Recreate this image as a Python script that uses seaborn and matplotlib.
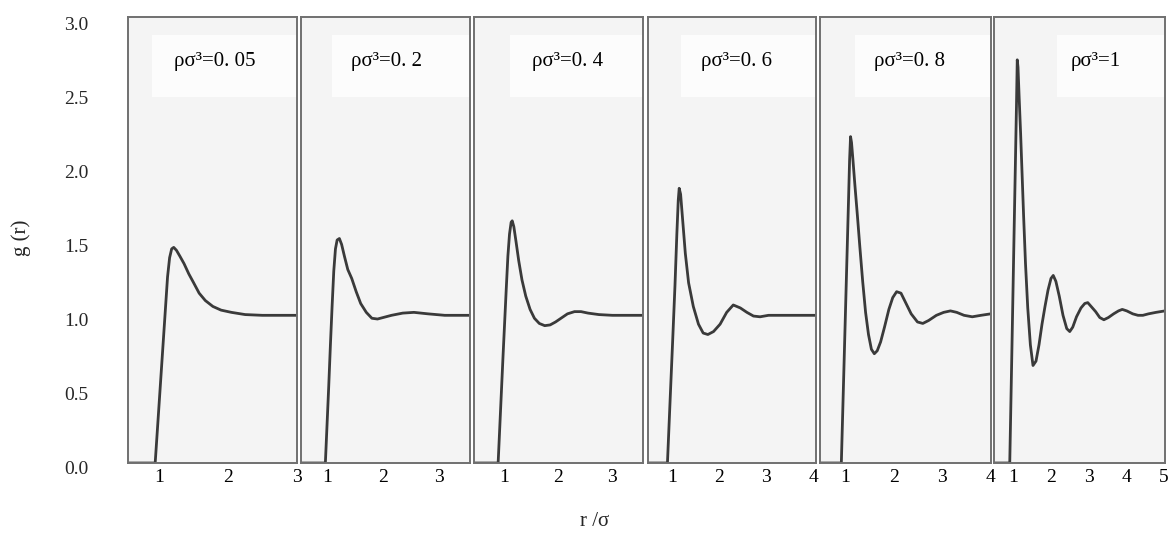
import matplotlib
matplotlib.use("Agg")
import matplotlib.pyplot as plt
import seaborn as sns
import pandas as pd
from matplotlib.patches import Rectangle
from matplotlib.transforms import ScaledTranslation

# ---------------- data ----------------
densities = ["0. 05", "0. 2", "0. 4", "0. 6", "0. 8", "1"]

r_005 = [0.54, 0.94, 0.97, 1.00, 1.03, 1.06, 1.09, 1.12, 1.15, 1.18, 1.21, 1.25, 1.30, 1.36,
         1.43, 1.50, 1.58, 1.67, 1.78, 1.90, 2.05, 2.25, 2.50, 2.75, 3.00]
g_005 = [0, 0, 0.21, 0.42, 0.63, 0.84, 1.05, 1.26, 1.39, 1.45, 1.46, 1.44, 1.40, 1.35,
         1.28, 1.22, 1.15, 1.10, 1.06, 1.035, 1.02, 1.005, 1.0, 1.0, 1.0]

r_02 = [0.53, 0.97, 1.00, 1.03, 1.06, 1.09, 1.12, 1.15, 1.18, 1.22, 1.26, 1.31, 1.37, 1.44,
        1.52, 1.60, 1.70, 1.80, 1.90, 2.00, 2.15, 2.35, 2.55, 2.80, 3.10, 3.55]
g_02 = [0, 0, 0.26, 0.52, 0.80, 1.06, 1.30, 1.45, 1.51, 1.52, 1.48, 1.40, 1.31, 1.25,
        1.16, 1.08, 1.02, 0.98, 0.975, 0.985, 1.0, 1.015, 1.02, 1.01, 1.0, 1.0]

r_04 = [0.45, 0.89, 0.92, 0.95, 0.98, 1.01, 1.04, 1.07, 1.10, 1.13, 1.15, 1.18, 1.22, 1.27,
        1.33, 1.40, 1.48, 1.56, 1.65, 1.75, 1.85, 1.95, 2.05, 2.17, 2.30, 2.42, 2.55, 2.75,
        3.00, 3.30, 3.57]
g_04 = [0, 0, 0.24, 0.48, 0.72, 0.95, 1.18, 1.40, 1.55, 1.63, 1.64, 1.60, 1.50, 1.37,
        1.24, 1.13, 1.04, 0.98, 0.945, 0.93, 0.935, 0.955, 0.98, 1.01, 1.025, 1.025, 1.015,
        1.005, 1.0, 1.0, 1.0]

r_06 = [0.48, 0.90, 0.96, 1.01, 1.06, 1.10, 1.13, 1.15, 1.18, 1.22, 1.28, 1.35, 1.45, 1.56,
        1.66, 1.76, 1.88, 2.02, 2.16, 2.30, 2.45, 2.59, 2.73, 2.87, 3.05, 3.30, 3.70, 4.06]
g_06 = [0, 0, 0.45, 0.82, 1.20, 1.55, 1.78, 1.86, 1.82, 1.66, 1.42, 1.22, 1.06, 0.94,
        0.88, 0.87, 0.89, 0.94, 1.02, 1.07, 1.05, 1.02, 0.995, 0.99, 1.0, 1.0, 1.0, 1.0]

r_08 = [0.48, 0.92, 0.95, 0.98, 1.01, 1.04, 1.07, 1.09, 1.11, 1.13, 1.16, 1.20, 1.25, 1.30,
        1.36, 1.42, 1.48, 1.54, 1.60, 1.66, 1.73, 1.81, 1.90, 1.98, 2.06, 2.15, 2.24, 2.36,
        2.49, 2.60, 2.72, 2.88, 3.03, 3.17, 3.30, 3.45, 3.62, 3.80, 4.00]
g_08 = [0, 0, 0.36, 0.72, 1.08, 1.44, 1.80, 2.05, 2.21, 2.17, 2.05, 1.88, 1.68, 1.47,
        1.23, 1.02, 0.87, 0.77, 0.74, 0.76, 0.82, 0.92, 1.04, 1.12, 1.16, 1.15, 1.09, 1.01,
        0.955, 0.945, 0.965, 1.0, 1.02, 1.03, 1.02, 1.0, 0.99, 1.0, 1.01]

r_10 = [0.48, 0.90, 0.93, 0.96, 0.99, 1.02, 1.05, 1.08, 1.10, 1.12, 1.15, 1.19, 1.23, 1.27,
        1.32, 1.38, 1.45, 1.52, 1.60, 1.68, 1.76, 1.84, 1.92, 2.00, 2.06, 2.13, 2.22, 2.32,
        2.42, 2.50, 2.58, 2.68, 2.80, 2.90, 2.98, 3.07, 3.19, 3.30, 3.41, 3.53, 3.67, 3.80,
        3.90, 4.02, 4.18, 4.32, 4.45, 4.60, 4.80, 5.04]
g_10 = [0, 0, 0.40, 0.80, 1.21, 1.62, 2.02, 2.43, 2.73, 2.68, 2.48, 2.23, 1.95, 1.67,
        1.35, 1.05, 0.80, 0.66, 0.69, 0.80, 0.94, 1.06, 1.17, 1.25, 1.27, 1.23, 1.13, 1.00,
        0.91, 0.89, 0.92, 0.99, 1.05, 1.08, 1.086, 1.06, 1.025, 0.985, 0.97, 0.985, 1.01,
        1.03, 1.04, 1.03, 1.01, 1.0, 1.0, 1.01, 1.02, 1.03]

r_series = [r_005, r_02, r_04, r_06, r_08, r_10]
g_series = [g_005, g_02, g_04, g_06, g_08, g_10]

x_limits = [(0.54, 3.0), (0.53, 3.55), (0.45, 3.57), (0.48, 4.06), (0.48, 4.0), (0.48, 5.04)]
x_ticks = [[1, 2, 3], [1, 2, 3], [1, 2, 3], [1, 2, 3, 4], [1, 2, 3, 4], [1, 2, 3, 4, 5]]
y_ticks = [0.0, 0.5, 1.0, 1.5, 2.0, 2.5, 3.0]
y_tick_labels = ["0.0", "0.5", "1.0", "1.5", "2.0", "2.5", "3.0"]

# ---------------- layout / style ----------------
W, H = 1168, 549
panel_px = [(127.7, 296.7), (300.7, 470.0), (474.3, 643.3),
            (647.7, 816.0), (820.0, 990.7), (994.0, 1165.0)]
top_px, bot_px = 17, 463
box_left = [0.142, 0.183, 0.21, 0.20, 0.205, 0.37]
text_left = [0.275, 0.295, 0.34, 0.315, 0.317, 0.45]

sns.set_theme(style="white")
plt.rcParams["font.family"] = ["Liberation Serif", "DejaVu Serif"]

fig = plt.figure(figsize=(W / 100, H / 100), dpi=100)
fig.patch.set_facecolor("white")

for i, (l, r) in enumerate(panel_px):
    ax = fig.add_axes([l / W, (H - bot_px) / H, (r - l) / W, (bot_px - top_px) / H])
    ax.set_facecolor("#f4f4f4")
    df = pd.DataFrame({"r": r_series[i], "g": g_series[i]})
    sns.lineplot(data=df, x="r", y="g", ax=ax, color="#3a3a3a", linewidth=2.0,
                 estimator=None, sort=False)
    ax.set_xlim(*x_limits[i])
    ax.set_ylim(0, 3.02)
    ax.set_xlabel("")
    ax.set_ylabel("")
    ax.set_xticks(x_ticks[i])
    ax.set_xticklabels([str(t) for t in x_ticks[i]], fontsize=14)
    ax.tick_params(axis="x", direction="in", length=3, width=1, color="#777777",
                   pad=4, labelcolor="black")
    for sp in ax.spines.values():
        sp.set_color("#707070")
        sp.set_linewidth(1.4)
    ax.add_patch(Rectangle((box_left[i], 0.82), 1 - box_left[i], 0.14,
                           transform=ax.transAxes, facecolor="#fcfcfc",
                           edgecolor="none", zorder=0.5))
    ax.text(text_left[i], 0.90, "ρσ³=" + densities[i], transform=ax.transAxes,
            ha="left", va="center", fontsize=15, color="black")
    if i == 0:
        ax.set_yticks(y_ticks)
        ax.set_yticklabels(y_tick_labels, fontsize=14)
        ax.tick_params(axis="y", length=0, pad=28)
        off = ScaledTranslation(0, -4 / 100, fig.dpi_scale_trans)
        for lbl in ax.get_yticklabels():
            lbl.set_transform(lbl.get_transform() + off)
    else:
        ax.set_yticks([])

fig.text(21 / W, 1 - 238 / H, "g (r)", rotation=90, ha="center", va="center", fontsize=15)
fig.text(595 / W, 1 - 522 / H, "r /σ", ha="center", va="center", fontsize=15)

fig.savefig("out.png", dpi=100)
